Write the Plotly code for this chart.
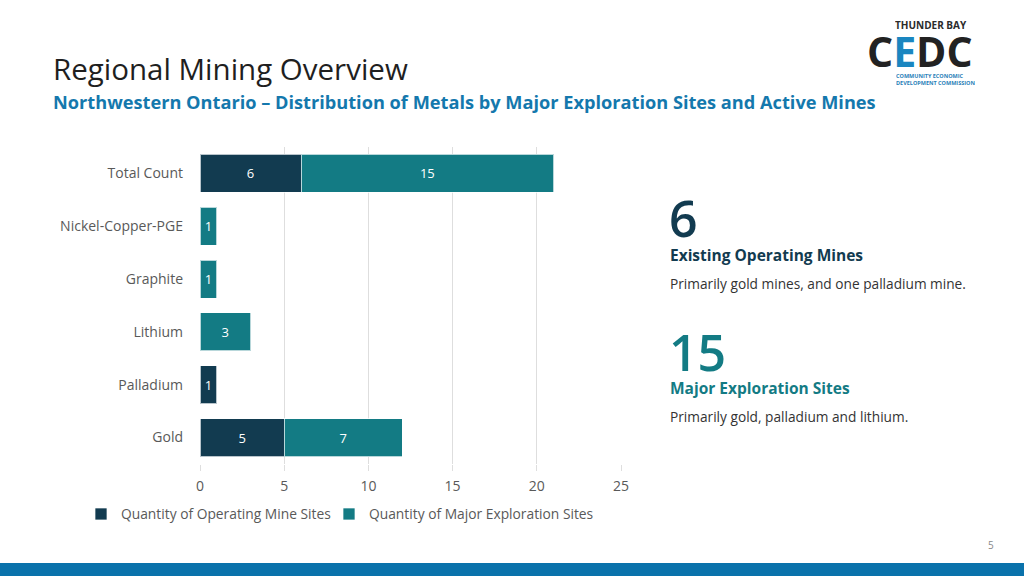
import plotly.graph_objects as go

categories = ["Total Count", "Nickel-Copper-PGE", "Graphite", "Lithium", "Palladium", "Gold"]
operating = [6, None, None, None, 1, 5]
exploration = [15, 1, 1, 3, None, 7]
x_ticks = [0, 5, 10, 15, 20, 25]

NAVY = "#123b50"
TEAL = "#137b84"
FONT = "Open Sans"

W, H = 1024, 576
L, R, T, B = 200, 621, 147, 464


def px(x, y):
    return (x - L) / (R - L), (B - y) / (B - T)


fig = go.Figure()
fig.add_trace(go.Bar(
    y=categories, x=operating, orientation="h", name="Quantity of Operating Mine Sites",
    marker=dict(color=NAVY, line=dict(color="rgba(255,255,255,0.7)", width=1)),
    text=operating, textposition="inside", insidetextanchor="middle", textangle=0,
    constraintext="none", textfont=dict(color="white", size=13, family=FONT),
    hoverinfo="skip", legend="legend",
))
fig.add_trace(go.Bar(
    y=categories, x=exploration, orientation="h", name="Quantity of Major Exploration Sites",
    marker=dict(color=TEAL, line=dict(color="rgba(255,255,255,0.7)", width=1)),
    text=exploration, textposition="inside", insidetextanchor="middle", textangle=0,
    constraintext="none", textfont=dict(color="white", size=13, family=FONT),
    hoverinfo="skip", legend="legend2",
))

annotations = []


def ann(x, y, text, size, color, xanchor="left", yanchor="middle", weight=None, align="left",
        height=None):
    ax, ay = px(x, y)
    f = dict(size=size, color=color, family=FONT)
    if weight:
        f["weight"] = weight
    a = dict(x=ax, y=ay, xref="paper", yref="paper", text=text, showarrow=False,
             xanchor=xanchor, yanchor=yanchor, font=f, align=align, borderpad=0)
    if height:
        a["height"] = height
    annotations.append(a)


ann(52, 69, "Regional Mining Overview", 29.5, "#1f1f1f")
ann(52, 102, "<b>Northwestern Ontario – Distribution of Metals by Major Exploration Sites and Active Mines</b>", 18.2, "#1478ad")

ann(668, 218, "6", 50, NAVY, weight=600)
ann(669, 255, "<b>Existing Operating Mines</b>", 15.5, NAVY)
ann(669, 283, "Primarily gold mines, and one palladium mine.", 13.7, "#333333")
ann(668, 352, "15", 50, TEAL, weight=600)
ann(669, 388, "<b>Major Exploration Sites</b>", 15.5, TEAL)
ann(669, 416, "Primarily gold, palladium and lithium.", 13.7, "#333333")

ann(991, 545, "5", 10, "#888888", xanchor="center")

# logo
ann(931, 25, "<b>THUNDER BAY</b>", 10, "#2b2b2b", xanchor="center", height=11)
ann(920, 51, "<b>C<span style='color:#1a86c0'>E</span>DC</b>", 41, "#222222", xanchor="center",
    height=38)
ann(895, 79, "<b>COMMUNITY ECONOMIC<br>DEVELOPMENT COMMISSION</b>", 5.5, "#2a7fb8", height=13)

x0, _ = px(0, 0)
x1, _ = px(W, 0)
_, y0 = px(0, 563)
_, y1 = px(0, 576)
shapes = [dict(type="rect", xref="paper", yref="paper", x0=x0, x1=x1, y0=y1, y1=y0,
               fillcolor="#0a72ab", line=dict(width=0), layer="above")]

l1x, ly = px(81, 514)
l2x, _ = px(329, 514)
legend_font = dict(size=13.8, color="#595959", family=FONT)

fig.update_layout(
    width=W, height=H,
    margin=dict(l=L, r=W - R, t=T, b=H - B, pad=0),
    paper_bgcolor="white", plot_bgcolor="white",
    barmode="stack", bargap=0.28,
    font=dict(family=FONT, color="#595959"),
    showlegend=True,
    hovermode=False,
    legend=dict(orientation="h", x=l1x, y=ly, xanchor="left", yanchor="middle",
                font=legend_font, itemwidth=30, bgcolor="rgba(0,0,0,0)"),
    legend2=dict(orientation="h", x=l2x, y=ly, xanchor="left", yanchor="middle",
                 font=legend_font, itemwidth=30, bgcolor="rgba(0,0,0,0)"),
    annotations=annotations,
    shapes=shapes,
    xaxis=dict(range=[0, 25], tickvals=x_ticks, showgrid=True, gridcolor="#dedede", gridwidth=1,
               zeroline=False, showline=False, ticks="outside", ticklen=6, tickcolor="#dedede",
               ticklabelstandoff=3, tickfont=dict(size=14, color="#595959"), fixedrange=True),
    yaxis=dict(autorange="reversed", showgrid=False, zeroline=False, showline=False,
               ticks="", ticklabelstandoff=16, tickfont=dict(size=14, color="#595959"),
               fixedrange=True),
)

fig.write_html("out.html", config={"displayModeBar": False},
               post_script="document.body.style.margin='0';document.body.style.overflow='hidden';")
